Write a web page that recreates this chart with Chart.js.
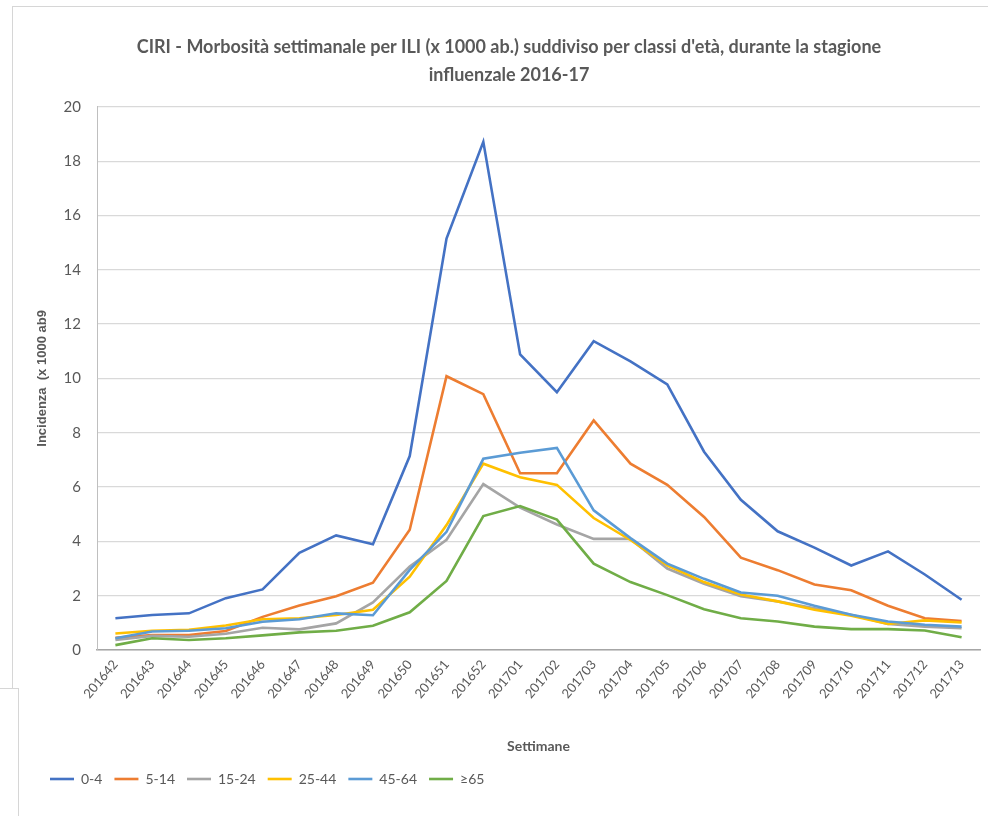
<!DOCTYPE html>
<html lang="it">
<head>
<meta charset="utf-8">
<title>CIRI - Morbosità settimanale per ILI</title>
<script src="https://cdn.jsdelivr.net/npm/chart.js@4.4.1/dist/chart.umd.min.js"></script>
<style>
  html, body { margin: 0; padding: 0; background: #ffffff; }
  #wrap { position: relative; width: 988px; height: 816px; overflow: hidden; }
  #c { position: absolute; left: 0; top: 0; }
  .frame { position: absolute; background: #d6d6d6; }
</style>
</head>
<body>
<div id="wrap">
  <canvas id="c" width="988" height="816"></canvas>
  <div class="frame" style="left:12px; top:6px; width:976px; height:1px;"></div>
  <div class="frame" style="left:12px; top:6px; width:1px; height:682px;"></div>
  <div class="frame" style="left:0; top:688px; width:19px; height:1px;"></div>
  <div class="frame" style="left:18px; top:688px; width:1px; height:128px;"></div>
</div>
<script>
// Weeks of the 2016-17 influenza season
const weeks = [
  '201642','201643','201644','201645','201646','201647','201648','201649',
  '201650','201651','201652','201701','201702','201703','201704','201705',
  '201706','201707','201708','201709','201710','201711','201712','201713'
];

// Weekly ILI incidence per 1000 inhabitants, by age class
const age0_4 = [1.17, 1.29, 1.35, 1.91, 2.23, 3.58, 4.22, 3.89, 7.14, 15.15, 18.71, 10.88,
                9.49, 11.37, 10.63, 9.78, 7.30, 5.53, 4.37, 3.77, 3.11, 3.63, 2.78, 1.85];
const age5_14 = [0.45, 0.55, 0.55, 0.70, 1.22, 1.64, 1.98, 2.48, 4.43, 10.08, 9.42, 6.51,
                 6.51, 8.45, 6.86, 6.08, 4.90, 3.40, 2.94, 2.41, 2.20, 1.63, 1.17, 1.07];
const age15_24 = [0.37, 0.52, 0.49, 0.60, 0.82, 0.76, 0.98, 1.75, 3.07, 4.06, 6.11, 5.24,
                  4.62, 4.09, 4.09, 3.00, 2.44, 1.98, 1.79, 1.54, 1.30, 0.96, 0.86, 0.80];
const age25_44 = [0.61, 0.71, 0.74, 0.90, 1.13, 1.17, 1.29, 1.48, 2.70, 4.60, 6.86, 6.36,
                  6.08, 4.86, 4.05, 3.12, 2.50, 2.04, 1.79, 1.48, 1.26, 0.96, 1.09, 1.01];
const age45_64 = [0.43, 0.68, 0.71, 0.80, 1.04, 1.13, 1.35, 1.28, 2.95, 4.35, 7.04, 7.26,
                  7.44, 5.14, 4.12, 3.18, 2.62, 2.12, 2.00, 1.63, 1.30, 1.05, 0.93, 0.86];
const age65plus = [0.18, 0.43, 0.37, 0.43, 0.54, 0.65, 0.71, 0.89, 1.39, 2.54, 4.93, 5.30,
                   4.80, 3.18, 2.50, 2.02, 1.50, 1.17, 1.05, 0.86, 0.77, 0.77, 0.72, 0.47];

const seriesNames = ['0-4', '5-14', '15-24', '25-44', '45-64', '\u226565'];
const seriesData = [age0_4, age5_14, age15_24, age25_44, age45_64, age65plus];
const seriesColors = ['#4472C4', '#ED7D31', '#A5A5A5', '#FFC000', '#5B9BD5', '#70AD47'];

const yTicks = [0, 2, 4, 6, 8, 10, 12, 14, 16, 18, 20];

const FONT = "Lato, 'Liberation Sans', sans-serif";
const TEXT = '#595959';

const datasets = seriesNames.map((name, i) => ({
  label: name,
  data: seriesData[i],
  borderColor: seriesColors[i],
  backgroundColor: seriesColors[i],
  borderWidth: 2.6,
  pointRadius: 0,
  pointHoverRadius: 0,
  tension: 0,
  fill: false,
  // later series are painted over earlier ones
  order: seriesNames.length - 1 - i
}));

// place the legend row at its left inset and centre the title over the frame
const boxInsets = {
  id: 'boxInsets',
  afterLayout(chart) {
    const lg = chart.legend;
    if (lg) { const dx = 38 - lg.left; lg.left += dx; lg.right += dx; }
    const tt = chart.titleBlock;
    if (tt) { tt.left += 13; tt.right += 13; }
  }
};

new Chart(document.getElementById('c'), {
  type: 'line',
  data: { labels: weeks, datasets },
  plugins: [boxInsets],
  options: {
    responsive: false,
    animation: false,
    layout: { padding: { left: 12, right: 8, top: 23, bottom: 20 } },
    plugins: {
      title: {
        display: true,
        text: ["CIRI - Morbosità settimanale per ILI (x 1000 ab.) suddiviso per classi d'età, durante la stagione",
               'influenzale 2016-17'],
        color: TEXT,
        font: { family: FONT, size: 18, weight: 'bold', lineHeight: 1.55 },
        padding: { top: 10, bottom: 18 }
      },
      legend: {
        display: true,
        position: 'bottom',
        align: 'start',
        labels: {
          usePointStyle: true,
          pointStyle: 'line',
          pointStyleWidth: 24,
          boxHeight: 13,
          padding: 12,
          color: TEXT,
          font: { family: FONT, size: 14 },
          sort: (a, b) => a.datasetIndex - b.datasetIndex
        }
      },
      tooltip: { enabled: false }
    },
    scales: {
      x: {
        offset: true,
        grid: { display: false, drawTicks: false },
        border: { display: true, color: '#a6a6a6', width: 1.5 },
        ticks: {
          color: TEXT,
          font: { family: FONT, size: 13 },
          minRotation: 50,
          maxRotation: 50,
          padding: 7,
          autoSkip: false
        },
        title: {
          display: true,
          text: 'Settimane',
          color: TEXT,
          font: { family: FONT, size: 14, weight: 'bold' },
          padding: { top: 0, bottom: 5 }
        },
        afterFit(scale) { scale.height = 110; }
      },
      y: {
        min: 0,
        max: 20,
        afterBuildTicks(scale) { scale.ticks = yTicks.map(v => ({ value: v })); },
        grid: { color: '#d9d9d9', lineWidth: 1.2, drawTicks: false },
        border: { display: true, color: '#bfbfbf', width: 1 },
        ticks: {
          color: TEXT,
          font: { family: FONT, size: 15 },
          padding: 16
        },
        title: {
          display: true,
          text: 'Incidenza  (x 1000 ab9',
          color: TEXT,
          font: { family: "'Liberation Sans', Arial, sans-serif", size: 13, weight: 'bold' },
          padding: { top: 23, bottom: 0 }
        },
        afterFit(scale) { scale.width = 85; }
      }
    }
  }
});
</script>
</body>
</html>
